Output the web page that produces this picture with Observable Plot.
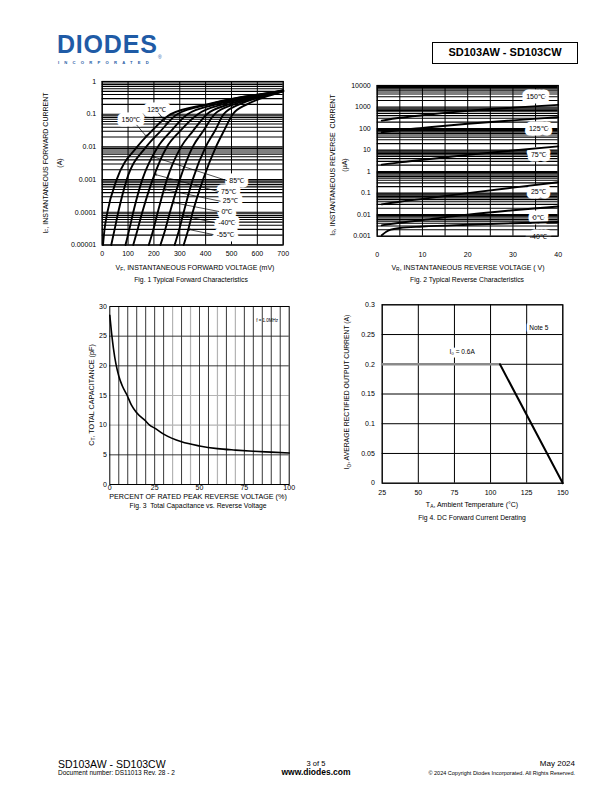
<!DOCTYPE html>
<html><head><meta charset="utf-8">
<script src="https://cdn.jsdelivr.net/npm/d3@7"></script>
<script src="https://cdn.jsdelivr.net/npm/@observablehq/plot@0.6"></script>
<style>
body{margin:0;background:#fff;}
#page{position:relative;width:612px;height:792px;overflow:hidden;font-family:"Liberation Sans",Arial,Helvetica,sans-serif;color:#000;background:#fff;}
sub{font-size:70%;vertical-align:-0.3em;line-height:0;}
</style></head><body><div id="page"></div>
<script>
// ---------- Fig 1 data: forward characteristics ----------
const fwdTemps = ["150℃","125℃","85℃","75℃","25℃","0℃","-40℃","-55℃"];
const fwdA = [1e-5, 3e-5, 1e-4, 1e-3, 1e-2, 0.03, 0.1, 0.2, 0.33, 0.47];
const fwdMV = [
  [3, 9, 20, 56, 135, 190, 265, 405, 535, 662],
  [35, 48, 62, 95, 170, 225, 290, 415, 540, 664],
  [90, 105, 120, 155, 215, 265, 330, 440, 555, 668],
  [120, 137, 155, 195, 250, 300, 370, 465, 570, 672],
  [180, 198, 215, 250, 305, 350, 405, 490, 585, 676],
  [225, 244, 262, 300, 350, 390, 435, 510, 595, 680],
  [280, 298, 315, 350, 400, 435, 470, 530, 610, 685],
  [315, 333, 350, 390, 440, 470, 505, 560, 625, 690]
];
const fwdEndMV = 700;
const fwdEndA = [0.54, 0.53, 0.52, 0.52, 0.51, 0.51, 0.50, 0.50];
const fwdXTicks = [0, 100, 200, 300, 400, 500, 600, 700];
const fwdYTicks = [1e-5, 1e-4, 1e-3, 1e-2, 0.1, 1];
const fwdYLabels = ["0.00001", "0.0001", "0.001", "0.01", "0.1", "1"];
const fwdLabels = [
  {t:"150℃", v:111, a:0.0656},
  {t:"125℃", v:210, a:0.1325},
  {t:"85℃", v:520, a:9.4e-4},
  {t:"75℃", v:488, a:4.3e-4},
  {t:"25℃", v:495, a:2.19e-4},
  {t:"0℃", v:482, a:1.06e-4},
  {t:"-40℃", v:482, a:4.78e-5},
  {t:"-55℃", v:476, a:2.09e-5}
];
const fwdArrows = [
  {v1:134, a1:0.046, v2:172, a2:0.0204},
  {v1:218, a1:0.108, v2:252, a2:0.05},
  {v1:481, a1:9.4e-4, v2:197, a2:0.005},
  {v1:450, a1:4.3e-4, v2:204, a2:0.00144},
  {v1:456, a1:2.19e-4, v2:240, a2:5e-4},
  {v1:451, a1:1.06e-4, v2:273, a2:2e-4},
  {v1:435, a1:4.78e-5, v2:311, a2:8e-5},
  {v1:429, a1:2.09e-5, v2:333, a2:3e-5}
];

// ---------- Fig 2 data: reverse characteristics ----------
const revV = [1, 5, 10, 20, 30, 40];
const rev150 = [234, 316, 417, 661, 933, 1259];
const rev125 = [68, 85, 107, 166, 240, 339];
const rev75 = [2.1, 2.7, 3.5, 6.0, 9.5, 14.8];
const rev25 = [0.030, 0.040, 0.054, 0.10, 0.18, 0.32];
const rev0 = [0.0032, 0.0042, 0.0056, 0.010, 0.016, 0.024];
const revVm40 = [1, 2, 3, 5, 10, 20, 30, 40];
const revm40 = [0.0011, 0.0016, 0.0020, 0.0024, 0.0028, 0.0034, 0.0040, 0.0046];
const revXTicks = [0, 10, 20, 30, 40];
const revXGrid = [0, 5, 10, 15, 20, 25, 30, 35, 40];
const revYTicks = [0.001, 0.01, 0.1, 1, 10, 100, 1000, 10000];
const revYLabels = ["0.001", "0.01", "0.1", "1", "10", "100", "1000", "10000"];
const revLabels = [
  {t:"150℃", v:35.0, a:3090},
  {t:"125℃", v:35.6, a:100},
  {t:"75℃", v:35.6, a:6.2},
  {t:"25℃", v:35.6, a:0.112},
  {t:"0℃", v:35.6, a:0.0074},
  {t:"-40℃", v:35.6, a:0.00095}
];

// ---------- Fig 3 data: capacitance ----------
const capPct = [0, 1, 2, 3.5, 5, 7, 9.7, 12, 15, 20, 22.2, 25, 30, 40, 50, 60, 70, 80, 90, 100];
const capPF = [28.5, 25.5, 23, 20.2, 18.3, 16.6, 15, 13.4, 12.1, 10.7, 10, 9.5, 8.5, 7.2, 6.5, 6.05, 5.8, 5.6, 5.45, 5.3];
const capXTicks = [0, 25, 50, 75, 100];
const capYTicks = [0, 5, 10, 15, 20, 25, 30];
const capXGridDark = [5, 10, 15, 20, 25, 30, 40, 50, 55, 65, 75, 80, 85, 90, 95];
const capXGridGray = [35, 45, 60, 70];
const capYGridDark = [5, 20, 25];
const capYGridGray = [10, 15];
const capNote = [{t:"f = 1.0MHz", v:87.7, c:27.6}];

// ---------- Fig 4 data: derating ----------
const derFlat = [{t:25, i:0.2}, {t:106.5, i:0.2}];
const derSlope = [{t:106.5, i:0.2}, {t:150, i:0}];
const derXTicks = [25, 50, 75, 100, 125, 150];
const derYTicks = [0, 0.05, 0.1, 0.15, 0.2, 0.25, 0.3];
const derYLabels = ["0", "0.05", "0.1", "0.15", "0.2", "0.25", "0.3"];
const derNotes = [{t:"I₀ = 0.6A", x:80.3, y:0.2215}, {t:"Note 5", x:133.4, y:0.261}];

// ---------- helpers ----------
const page = document.getElementById("page");
const FONT = '"Liberation Sans", Arial, Helvetica, sans-serif';
const plotStyle = {fontFamily: FONT, fontSize: "7px", background: "transparent", overflow: "visible"};
function place(svg, left, top) {
  svg.style.position = "absolute"; svg.style.left = left + "px"; svg.style.top = top + "px";
  page.appendChild(svg);
}
function label(html, x, y, size, anchor = "c", extra = {}) {
  const d = document.createElement("div");
  d.innerHTML = html;
  Object.assign(d.style, {position:"absolute", left:x+"px", top:y+"px", fontSize:size+"px", whiteSpace:"nowrap", lineHeight:"1.15"});
  d.style.transform = {c:"translate(-50%,-50%)", l:"translate(0,-50%)", r:"translate(-100%,-50%)", v:"translate(-50%,-50%) rotate(-90deg)"}[anchor];
  if (anchor === "v") d.style.textAlign = "center";
  Object.assign(d.style, extra);
  page.appendChild(d);
  return d;
}
function minorLog(decades) {
  const out = [];
  for (let i = 0; i < decades.length - 1; i++) for (let k = 1; k < 10; k++) out.push(decades[i] * k);
  out.push(decades[decades.length - 1]);
  return out;
}

// ---------- Fig 1 ----------
const fwdRows = fwdTemps.flatMap((t, i) =>
  fwdMV[i].map((v, j) => ({t, v, a: fwdA[j]})).concat([{t, v: fwdEndMV, a: fwdEndA[i]}]));
const p1 = Plot.plot({
  width: 260, height: 195, marginLeft: 61.7, marginRight: 17.3, marginTop: 11, marginBottom: 20.5,
  style: plotStyle,
  x: {domain: [0, 700]},
  y: {type: "log", domain: [1e-5, 1]},
  marks: [
    Plot.ruleY(minorLog(fwdYTicks), {stroke: "#000", strokeWidth: 1.1}),
    Plot.ruleX(fwdXTicks, {stroke: "#000", strokeWidth: 1}),
    Plot.text(fwdLabels, {x: "v", y: "a", text: "t", fill: "white", stroke: "white", strokeWidth: 9, fontSize: 7}),
    Plot.frame({stroke: "#000", strokeWidth: 1.2}),
    Plot.line(fwdRows, {x: "v", y: "a", z: "t", stroke: "#000", strokeWidth: 1.9, curve: "monotone-x"}),
    Plot.arrow(fwdArrows, {x1: "v1", y1: "a1", x2: "v2", y2: "a2", stroke: "#000", strokeWidth: 0.7, headLength: 4}),
    Plot.text(fwdLabels, {x: "v", y: "a", text: "t", fill: "#000", fontSize: 7}),
    Plot.axisX({ticks: fwdXTicks, tickSize: 0, tickPadding: 6, label: null}),
    Plot.axisY({ticks: fwdYTicks, tickSize: 0, tickPadding: 6, label: null,
      tickFormat: d => fwdYLabels[fwdYTicks.indexOf(d)]})
  ]
});
place(p1, 40, 70);

// ---------- Fig 2 ----------
const revSeries = [["150", revV, rev150], ["125", revV, rev125], ["75", revV, rev75],
  ["25", revV, rev25], ["0", revV, rev0], ["-40", revVm40, revm40]];
const revRows = revSeries.flatMap(([t, xs, ys]) => xs.map((v, j) => ({t, v, a: ys[j]})));
const p2 = Plot.plot({
  width: 260, height: 195, marginLeft: 56.7, marginRight: 22.3, marginTop: 10, marginBottom: 34.3,
  style: plotStyle,
  x: {domain: [0, 40]},
  y: {type: "log", domain: [0.001, 10000]},
  marks: [
    Plot.ruleY(minorLog(revYTicks), {stroke: "#000", strokeWidth: 1.1}),
    Plot.ruleX(revXGrid, {stroke: "#000", strokeWidth: 1}),
    Plot.text(revLabels, {x: "v", y: "a", text: "t", fill: "white", stroke: "white", strokeWidth: 9, fontSize: 7}),
    Plot.frame({stroke: "#000", strokeWidth: 1.2}),
    Plot.line(revRows, {x: "v", y: "a", z: "t", stroke: "#000", strokeWidth: 1.9, curve: "monotone-x"}),
    Plot.text(revLabels, {x: "v", y: "a", text: "t", fill: "#000", fontSize: 7}),
    Plot.axisX({ticks: revXTicks, tickSize: 0, tickPadding: 16, label: null}),
    Plot.axisY({ticks: revYTicks, tickSize: 0, tickPadding: 6.5, label: null,
      tickFormat: d => revYLabels[revYTicks.indexOf(d)]})
  ]
});
place(p2, 320, 75);

// ---------- Fig 3 ----------
const capRows = capPct.map((p, i) => ({p, c: capPF[i]}));
const p3 = Plot.plot({
  width: 250, height: 200, marginLeft: 49.3, marginRight: 21.3, marginTop: 11, marginBottom: 11,
  style: plotStyle,
  x: {domain: [0, 100]},
  y: {domain: [0, 30]},
  marks: [
    Plot.ruleX(capXGridGray, {stroke: "#b4b4b4", strokeWidth: 1.2}),
    Plot.ruleY(capYGridGray, {stroke: "#b4b4b4", strokeWidth: 1.2}),
    Plot.ruleX(capXGridDark, {stroke: "#222", strokeWidth: 0.9}),
    Plot.ruleY(capYGridDark, {stroke: "#222", strokeWidth: 0.9}),
    Plot.frame({stroke: "#000", strokeWidth: 1}),
    Plot.line(capRows, {x: "p", y: "c", stroke: "#000", strokeWidth: 1.6, curve: "monotone-x"}),
    Plot.text(capNote, {x: "v", y: "c", text: "t", fontSize: 4.5, fill: "#000"}),
    Plot.axisX({ticks: capXTicks, tickSize: 0, tickPadding: 1, label: null}),
    Plot.axisY({ticks: capYTicks, tickSize: 0, tickPadding: 3, label: null})
  ]
});
place(p3, 60, 295);

// ---------- Fig 4 ----------
const p4 = Plot.plot({
  width: 250, height: 205, marginLeft: 51.7, marginRight: 17.7, marginTop: 9.3, marginBottom: 17.3,
  style: plotStyle,
  x: {domain: [25, 150]},
  y: {domain: [0, 0.3]},
  marks: [
    Plot.ruleX(derXTicks, {stroke: "#000", strokeWidth: 1}),
    Plot.ruleY(derYTicks, {stroke: "#000", strokeWidth: 1}),
    Plot.frame({stroke: "#000", strokeWidth: 1}),
    Plot.text(derNotes, {x: "x", y: "y", text: "t", fill: "white", stroke: "white", strokeWidth: 6, fontSize: 6.5}),
    Plot.line(derFlat, {x: "t", y: "i", stroke: "#8a8a8a", strokeWidth: 2.4}),
    Plot.line(derSlope, {x: "t", y: "i", stroke: "#000", strokeWidth: 2}),
    Plot.text(derNotes, {x: "x", y: "y", text: "t", fill: "#000", fontSize: 6.5}),
    Plot.axisX({ticks: derXTicks, tickSize: 0, tickPadding: 6.5, label: null}),
    Plot.axisY({ticks: derYTicks, tickSize: 0, tickPadding: 7.4, label: null,
      tickFormat: d => derYLabels[derYTicks.indexOf(d)]})
  ]
});
place(p4, 330, 295);

// ---------- axis titles & captions ----------
label("I<sub>F</sub>, INSTANTANEOUS FORWARD CURRENT<br>(A)", 53, 163, 7, "v", {lineHeight: "14px"});
label("V<sub>F</sub>, INSTANTANEOUS FORWARD VOLTAGE (mV)", 195, 268, 7);
label("Fig. 1 Typical Forward Characteristics", 191, 280, 6.8);

label("I<sub>R</sub>, INSTANTANEOUS REVERSE&nbsp; CURRENT<br>(µA)", 339, 165, 7, "v", {lineHeight: "12px"});
label("V<sub>R</sub>, INSTANTANEOUS REVERSE VOLTAGE ( V)", 468, 268, 7);
label("Fig. 2 Typical Reverse Characteristics", 467, 280, 6.8);

label("C<sub>T</sub>, TOTAL CAPACITANCE (pF)", 92, 395, 7.2, "v");
label("PERCENT OF RATED PEAK REVERSE VOLTAGE (%)", 198, 497, 7.2);
label("Fig. 3&nbsp; Total Capacitance vs. Reverse Voltage", 198, 506, 6.8);

label("I<sub>O</sub>, AVERAGE RECTIFIED OUTPUT CURRENT (A)", 347, 392, 6.8, "v");
label("T<sub>A</sub>, Ambient Temperature (°C)", 472, 505, 7);
label("Fig 4. DC Forward Current Derating", 472, 518, 6.8);

// ---------- header ----------
label("DIODES", 57, 45, 25, "l", {fontWeight: "700", color: "#1f5ba6", letterSpacing: "0.8px", lineHeight: "0.78"});
label("INCORPORATED", 58, 62.5, 4.2, "l", {fontWeight: "700", color: "#1f5ba6", letterSpacing: "5.2px", lineHeight: "1"});
label("®", 158, 57, 5, "l", {color: "#1f5ba6", lineHeight: "1"});
label("SD103AW - SD103CW", 505, 53, 11, "c",
  {fontWeight: "700", border: "1.5px solid #000", width: "146px", height: "22px", boxSizing: "border-box",
   textAlign: "center", lineHeight: "19px"});

// ---------- footer ----------
label("SD103AW - SD103CW", 58, 764, 10.5, "l");
label("Document number: DS11013 Rev. 28 - 2", 58, 773, 6.5, "l");
label("3 of 5", 316, 764, 7.5, "c");
label("www.diodes.com", 316, 773, 8.5, "c", {fontWeight: "700"});
label("May 2024", 575, 764, 8, "r");
label("© 2024 Copyright Diodes Incorporated. All Rights Reserved.", 575, 773, 5.5, "r");
</script>
</body></html>
